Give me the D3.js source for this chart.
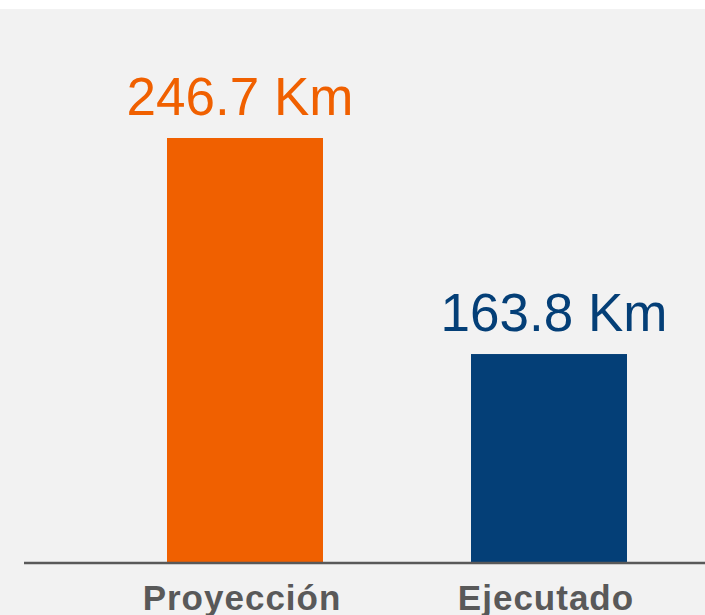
<!DOCTYPE html>
<html>
<head>
<meta charset="utf-8">
<script src="https://cdn.jsdelivr.net/npm/d3@7"></script>
<style>
  html, body { margin: 0; padding: 0; background: #ffffff; }
  svg { display: block; }
</style>
</head>
<body>
<svg id="chart" width="705" height="615"></svg>
<script>
const categories = ["Proyección", "Ejecutado"];
const values = [246.7, 163.8];
const valueLabels = ["246.7 Km", "163.8 Km"];
const colors = ["#F06000", "#043F77"];

const W = 705, H = 615;
const svg = d3.select("#chart");

// panel background
svg.append("rect").attr("x", 0).attr("y", 9).attr("width", W).attr("height", H - 9).attr("fill", "#F2F2F2");

const baseY = 562;
const xs = d3.scalePoint().domain(categories).range([245, 549]);
const barW = 156;
const y = d3.scaleLinear().domain([84, 246.7]).range([baseY, 138]);

const data = categories.map((c, i) => ({ c, v: values[i], label: valueLabels[i], color: colors[i] }));

svg.selectAll("rect.bar").data(data).join("rect")
  .attr("class", "bar")
  .attr("x", d => xs(d.c) - barW / 2)
  .attr("y", d => y(d.v))
  .attr("width", barW)
  .attr("height", d => baseY - y(d.v))
  .attr("fill", d => d.color);

// baseline
svg.append("line").attr("x1", 24).attr("x2", W).attr("y1", 563).attr("y2", 563)
  .attr("stroke", "#595959").attr("stroke-width", 2.5);

// value labels
const dxs = [-5, 5];
svg.selectAll("text.val").data(data).join("text")
  .attr("class", "val")
  .attr("x", (d, i) => xs(d.c) + dxs[i])
  .attr("y", d => y(d.v) - 23)
  .attr("text-anchor", "middle")
  .attr("font-family", "Liberation Sans, Arial, sans-serif")
  .attr("font-size", 53)
  .attr("fill", d => d.color)
  .text(d => d.label);

// category labels
svg.selectAll("text.cat").data(data).join("text")
  .attr("class", "cat")
  .attr("x", d => xs(d.c) - 3)
  .attr("y", 609.5)
  .attr("text-anchor", "middle")
  .attr("font-family", "Liberation Sans, Arial, sans-serif")
  .attr("font-weight", "bold")
  .attr("font-size", 35)
  .attr("letter-spacing", 1)
  .attr("fill", "#595959")
  .text(d => d.c);
</script>
</body>
</html>
